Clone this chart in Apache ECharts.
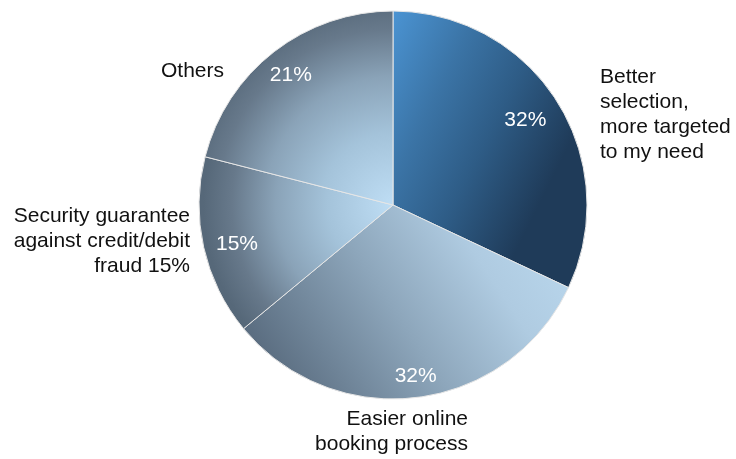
<!DOCTYPE html>
<html>
<head>
<meta charset="utf-8">
<script src="https://cdn.jsdelivr.net/npm/echarts@6/dist/echarts.min.js"></script>
<style>
html,body{margin:0;padding:0;background:#fff;}
#chart{width:736px;height:459px;}
</style>
</head>
<body>
<div id="chart"></div>
<script>
var categories = [
  'Better\nselection,\nmore targeted\nto my need',
  'Easier online\nbooking process',
  'Security guarantee\nagainst credit/debit\nfraud 15%',
  'Others'
];
var values = [32, 32, 15, 21];

var FONT = '"Liberation Sans", Arial, sans-serif';

function radial(cx, cy, r) {
  return new echarts.graphic.RadialGradient(cx, cy, r, [
    {offset: 0, color: '#bfdef5'},
    {offset: 0.35, color: '#a4c3da'},
    {offset: 0.62, color: '#8aa3b8'},
    {offset: 0.85, color: '#67798b'},
    {offset: 1, color: '#566879'}
  ]);
}

var fills = [
  new echarts.graphic.LinearGradient(0, 0, 1, 0.35, [
    {offset: 0, color: '#4b94d3'},
    {offset: 0.35, color: '#3b74a6'},
    {offset: 0.65, color: '#2e5c86'},
    {offset: 1, color: '#1f3b59'}
  ]),
  new echarts.graphic.LinearGradient(1, 0, 0.1, 1, [
    {offset: 0, color: '#bddbf1'},
    {offset: 0.3, color: '#afcbe1'},
    {offset: 0.58, color: '#8da6bb'},
    {offset: 1, color: '#55677a'}
  ]),
  radial(1, 0.28, 1.1),
  radial(1, 1, 1.1)
];

// Label anchors / nudges (layout only)
var outerLayout = [
  {x: 600, y: 115, align: 'left'},
  {x: 468, y: 432, align: 'right'},
  {x: 190, y: 241, align: 'right'},
  {x: 224, y: 71, align: 'right'}
];
var innerNudge = [[-7, 4], [2, 8], [5, 3], [-1, 1]];

var mainData = categories.map(function (c, i) {
  return {name: c, value: values[i], itemStyle: {color: fills[i]}};
});
var overlayData = categories.map(function (c, i) {
  return {name: c, value: values[i]};
});

var chart = echarts.init(document.getElementById('chart'), null, {renderer: 'canvas'});
chart.setOption({
  animation: false,
  backgroundColor: '#ffffff',
  series: [
    {
      type: 'pie',
      center: [393, 205],
      radius: [0, 194],
      startAngle: 90,
      clockwise: true,
      silent: true,
      data: mainData,
      itemStyle: {borderColor: '#e6e6e6', borderWidth: 1},
      label: {
        show: true,
        position: 'outside',
        formatter: '{b}',
        color: '#111',
        fontFamily: FONT,
        fontSize: 21,
        lineHeight: 25,
        overflow: 'none',
        width: 300
      },
      labelLine: {show: false},
      labelLayout: function (p) {
        var o = outerLayout[p.dataIndex];
        return {x: o.x, y: o.y, align: o.align, verticalAlign: 'middle'};
      }
    },
    {
      type: 'pie',
      center: [393, 205],
      radius: [130, 194],
      startAngle: 90,
      clockwise: true,
      silent: true,
      data: overlayData,
      itemStyle: {color: 'rgba(0,0,0,0)', borderWidth: 0},
      label: {
        show: true,
        position: 'inside',
        formatter: function (p) { return p.value + '%'; },
        color: '#ffffff',
        fontFamily: FONT,
        fontSize: 21
      },
      labelLine: {show: false},
      labelLayout: function (p) {
        var n = innerNudge[p.dataIndex];
        return {dx: n[0], dy: n[1]};
      }
    }
  ]
});
</script>
</body>
</html>
